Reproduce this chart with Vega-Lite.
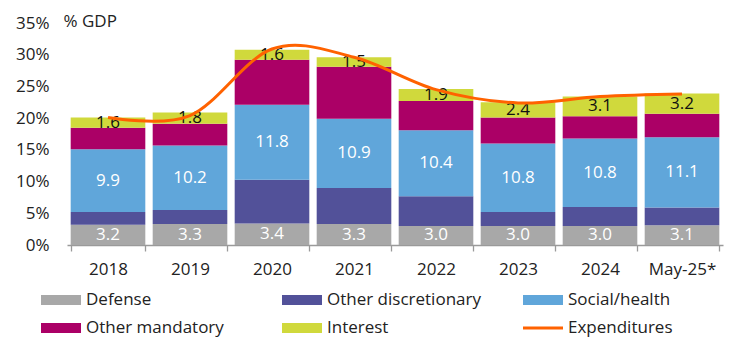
{
  "$schema": "https://vega.github.io/schema/vega-lite/v6.json",
  "width": 656,
  "height": 222,
  "autosize": "none",
  "padding": {"left": 67, "top": 23, "right": 24, "bottom": 100},
  "background": "white",
  "config": {
    "font": "Open Sans",
    "view": {"stroke": null},
    "axis": {"labelFont": "Open Sans", "titleFont": "Open Sans", "labelColor": "#222222", "titleColor": "#222222"},
    "axisY": {"labelOverlap": false, "tickCount": 10},
    "legend": {"labelFont": "Open Sans"}
  },
  "datasets": {
    "parts": [
      {"year": "2018", "cat": "Defense", "value": 3.2},
      {"year": "2018", "cat": "Other discretionary", "value": 2.0},
      {"year": "2018", "cat": "Social/health", "value": 9.9},
      {"year": "2018", "cat": "Other mandatory", "value": 3.4},
      {"year": "2018", "cat": "Interest", "value": 1.6},
      {"year": "2019", "cat": "Defense", "value": 3.3},
      {"year": "2019", "cat": "Other discretionary", "value": 2.2},
      {"year": "2019", "cat": "Social/health", "value": 10.2},
      {"year": "2019", "cat": "Other mandatory", "value": 3.4},
      {"year": "2019", "cat": "Interest", "value": 1.8},
      {"year": "2020", "cat": "Defense", "value": 3.4},
      {"year": "2020", "cat": "Other discretionary", "value": 6.9},
      {"year": "2020", "cat": "Social/health", "value": 11.8},
      {"year": "2020", "cat": "Other mandatory", "value": 7.1},
      {"year": "2020", "cat": "Interest", "value": 1.6},
      {"year": "2021", "cat": "Defense", "value": 3.3},
      {"year": "2021", "cat": "Other discretionary", "value": 5.7},
      {"year": "2021", "cat": "Social/health", "value": 10.9},
      {"year": "2021", "cat": "Other mandatory", "value": 8.2},
      {"year": "2021", "cat": "Interest", "value": 1.5},
      {"year": "2022", "cat": "Defense", "value": 3.0},
      {"year": "2022", "cat": "Other discretionary", "value": 4.7},
      {"year": "2022", "cat": "Social/health", "value": 10.4},
      {"year": "2022", "cat": "Other mandatory", "value": 4.6},
      {"year": "2022", "cat": "Interest", "value": 1.9},
      {"year": "2023", "cat": "Defense", "value": 3.0},
      {"year": "2023", "cat": "Other discretionary", "value": 2.2},
      {"year": "2023", "cat": "Social/health", "value": 10.8},
      {"year": "2023", "cat": "Other mandatory", "value": 4.1},
      {"year": "2023", "cat": "Interest", "value": 2.4},
      {"year": "2024", "cat": "Defense", "value": 3.0},
      {"year": "2024", "cat": "Other discretionary", "value": 3.0},
      {"year": "2024", "cat": "Social/health", "value": 10.8},
      {"year": "2024", "cat": "Other mandatory", "value": 3.5},
      {"year": "2024", "cat": "Interest", "value": 3.1},
      {"year": "May-25*", "cat": "Defense", "value": 3.1},
      {"year": "May-25*", "cat": "Other discretionary", "value": 2.8},
      {"year": "May-25*", "cat": "Social/health", "value": 11.1},
      {"year": "May-25*", "cat": "Other mandatory", "value": 3.7},
      {"year": "May-25*", "cat": "Interest", "value": 3.2}
    ],
    "total": [
      {"year": "2018", "value": 20.1},
      {"year": "2019", "value": 20.4},
      {"year": "2020", "value": 30.9},
      {"year": "2021", "value": 29.6},
      {"year": "2022", "value": 24.5},
      {"year": "2023", "value": 22.4},
      {"year": "2024", "value": 23.4},
      {"year": "May-25*", "value": 23.8}
    ]
  },
  "encoding": {
    "x": {
      "field": "year",
      "type": "nominal",
      "sort": ["2018", "2019", "2020", "2021", "2022", "2023", "2024", "May-25*"],
      "scale": {"paddingInner": 0.09, "paddingOuter": 0.045},
      "axis": {
        "title": null,
        "labelAngle": 0,
        "labelFontSize": 17,
        "labelPadding": 10,
        "tickSize": 6,
        "tickBand": "extent",
        "domainColor": "#9a9a9a",
        "tickColor": "#9a9a9a",
        "domainWidth": 1.3,
        "tickWidth": 1.3
      }
    }
  },
  "layer": [
    {
      "data": {"name": "parts"},
      "transform": [
        {"calculate": "indexof(['Defense','Other discretionary','Social/health','Other mandatory','Interest'], datum.cat)", "as": "ord"}
      ],
      "mark": {"type": "bar"},
      "encoding": {
        "y": {
          "field": "value",
          "type": "quantitative",
          "stack": "zero",
          "scale": {"domain": [0, 35], "nice": false},
          "axis": {
            "values": [0, 5, 10, 15, 20, 25, 30, 35],
            "tickCount": 10,
            "labelExpr": "datum.value + '%'",
            "labelOverlap": false,
            "grid": false,
            "domain": false,
            "ticks": false,
            "labelPadding": 18,
            "labelFontSize": 17,
            "title": "% GDP",
            "titleAngle": 0,
            "titleAlign": "left",
            "titleBaseline": "middle",
            "titleX": -4,
            "titleY": -2,
            "titleFontSize": 17,
            "titleFontWeight": "normal"
          }
        },
        "order": {"field": "ord", "type": "quantitative"},
        "color": {
          "field": "cat",
          "type": "nominal",
          "scale": {
            "domain": ["Defense", "Other discretionary", "Social/health", "Other mandatory", "Interest", "Expenditures"],
            "range": ["#A8A8A8", "#525199", "#60A6DA", "#AB0066", "#D0D93C", "#FF6200"]
          },
          "legend": {
            "orient": "none",
            "legendX": -26,
            "legendY": 257,
            "direction": "horizontal",
            "columns": 3,
            "title": null,
            "padding": 0,
            "gridAlign": "all",
            "columnPadding": 42,
            "rowPadding": -23,
            "symbolType": "M-1,-0.25H1V0.25H-1Z",
            "symbolSize": 1600,
            "symbolStrokeWidth": 0,
            "labelFontSize": 17,
            "labelOffset": 5,
            "labelColor": "#222222",
            "labelLimit": 300,
            "encode": {
              "symbols": {
                "update": {
                  "shape": {"signal": "datum.value === 'Expenditures' ? 'M-1,-0.075H1V0.075H-1Z' : 'M-1,-0.25H1V0.25H-1Z'"},
                  "fill": {"scale": "color", "field": "value"},
                  "stroke": {"value": "transparent"},
                  "opacity": {"value": 1}
                }
              }
            }
          }
        }
      }
    },
    {
      "data": {"name": "parts"},
      "transform": [
        {"calculate": "indexof(['Defense','Other discretionary','Social/health','Other mandatory','Interest'], datum.cat)", "as": "ord"},
        {"stack": "value", "groupby": ["year"], "sort": [{"field": "ord", "order": "ascending"}], "as": ["y0", "y1"]},
        {"calculate": "(datum.y0 + datum.y1) / 2", "as": "mid"},
        {"filter": "datum.cat === 'Defense' || datum.cat === 'Social/health' || datum.cat === 'Interest'"}
      ],
      "mark": {"type": "text", "fontSize": 17, "baseline": "middle", "align": "center"},
      "encoding": {
        "y": {"field": "mid", "type": "quantitative"},
        "text": {"field": "value", "type": "quantitative", "format": ".1f"},
        "color": {"condition": {"test": "datum.cat === 'Interest'", "value": "#111111"}, "value": "#ffffff"}
      }
    },
    {
      "data": {"name": "total"},
      "mark": {"type": "line", "interpolate": "cardinal", "strokeWidth": 3},
      "encoding": {
        "y": {"field": "value", "type": "quantitative"},
        "color": {"datum": "Expenditures"}
      }
    }
  ]
}
